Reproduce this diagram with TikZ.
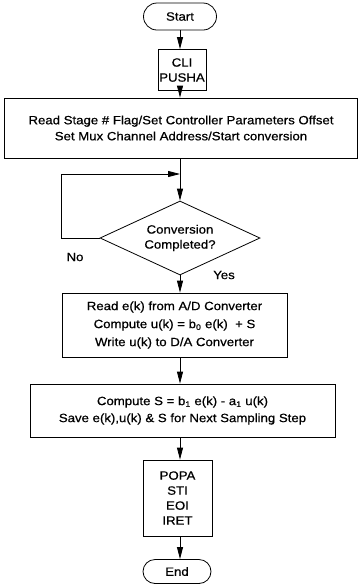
\documentclass[tikz,border=0pt]{standalone}
\usepackage{fontspec}
\setmainfont[FakeStretch=1.1,FakeBold=0.6]{Liberation Sans}
\usepackage{tikz}
\usetikzlibrary{arrows.meta, shapes.geometric, shapes.misc}

\begin{document}
\begin{tikzpicture}[x=1pt,y=1pt,font=\fontsize{12}{15}\selectfont,
    box/.style={draw,line width=0.8pt,align=center,inner sep=0pt},
    term/.style={draw,line width=0.8pt,rounded rectangle,inner sep=0pt},
    arr/.style={line width=0.8pt,-{Triangle[length=12pt,width=6pt]}}]
    \useasboundingbox (0,0) rectangle (360,-587);
    \node[term,minimum width=73,minimum height=27] (start) at (180,-16.5) {Start};
    \node[box,minimum width=48,minimum height=41] (cli) at (182,-70) {CLI\\PUSHA};
    \node[box,minimum width=353,minimum height=60] (setup) at (181,-128)
      {Read Stage \# Flag/Set Controller Parameters Offset\\[1pt]Set Mux Channel Address/Start conversion};
    \node[box,diamond,aspect=2.16,minimum width=160,minimum height=74] (conv) at (180,-238)
      {Conversion\\Completed?};
    \node[box,minimum width=225,minimum height=64] (ctrl) at (174.5,-325)
      {Read e(k) from A/D Converter\\[3pt]Compute u(k) = b\textsubscript{0} e(k) \ + S\\[3pt]Write u(k) to D/A Converter};
    \node[box,minimum width=305,minimum height=53] (upd) at (182.5,-410.5)
      {Compute S = b\textsubscript{1} e(k) - a\textsubscript{1} u(k)\\[2pt]Save e(k),u(k) \& S for Next Sampling Step};
    \node[box,minimum width=69,minimum height=76] (rest) at (177.5,-498) {POPA\\STI\\EOI\\IRET};
    \node[term,minimum width=68,minimum height=24] (finish) at (177,-571.5) {End};
    \node (no) at (75,-257) {No};
    \node (yes) at (224,-275) {Yes};
    \coordinate (loop) at (180,-174);

    \draw[arr] (start.south) -- (cli.north -| start);
    \draw[arr] (cli.south -| start) -- (setup.north -| start);
    \draw[arr] (setup.south -| start) -- (conv.north);
    \draw[arr] (conv.west) -- ++(-38,0) |- (loop);
    \draw[arr] (conv.south) -- (ctrl.north -| conv);
    \draw[arr] (ctrl.south -| conv) -- (upd.north -| conv);
    \draw[arr] (upd.south -| conv) -- (rest.north -| conv);
    \draw[arr] (rest.south -| conv) -- (finish.north -| conv);
  \end{tikzpicture}
\end{document}
